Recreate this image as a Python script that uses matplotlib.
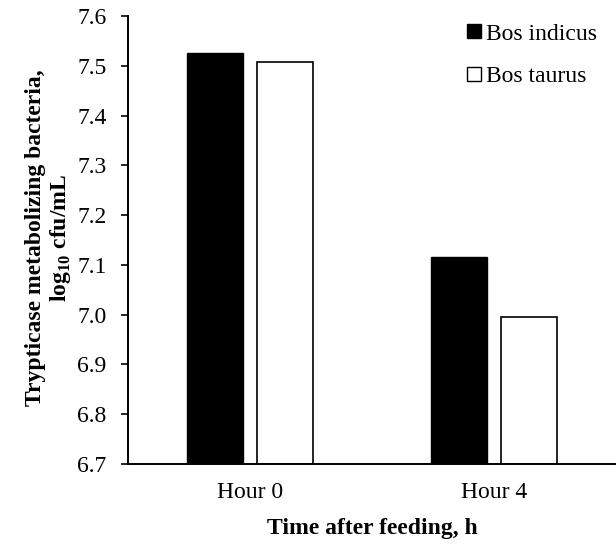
import numpy as np
import matplotlib
matplotlib.use("Agg")
import matplotlib.pyplot as plt
from matplotlib.lines import Line2D
from matplotlib.ticker import FormatStrFormatter

# data
hours = ["Hour 0", "Hour 4"]
bos_indicus = [7.525, 7.115]
bos_taurus = [7.508, 6.996]
y_ticks = [6.7, 6.8, 6.9, 7.0, 7.1, 7.2, 7.3, 7.4, 7.5, 7.6]

plt.rcParams["font.family"] = ["Liberation Serif", "DejaVu Serif"]
plt.rcParams["mathtext.fontset"] = "custom"
plt.rcParams["mathtext.rm"] = "Liberation Serif"
plt.rcParams["mathtext.bf"] = "Liberation Serif:bold"
plt.rcParams["font.size"] = 17

fig = plt.figure(figsize=(6.16, 5.48), dpi=100)
ax = fig.add_axes([128 / 616, 1 - 464 / 548, 1 - 128 / 616, 448 / 548])

x = np.arange(len(hours))
w = 0.232
off = 0.143
ax.bar(x - off, np.array(bos_indicus) - 6.7, w, bottom=6.7, color="black",
       edgecolor="black", linewidth=1.0)
ax.bar(x + off, np.array(bos_taurus) - 6.7, w, bottom=6.7, color="white",
       edgecolor="black", linewidth=1.2)

ax.set_xlim(-0.5, 1.5)
ax.set_ylim(6.7, 7.6)
ax.set_yticks(y_ticks)
ax.yaxis.set_major_formatter(FormatStrFormatter("%.1f"))
ax.set_xticks(x)
ax.set_xticklabels(hours)
ax.tick_params(axis="x", length=0, pad=13)
ax.tick_params(axis="y", direction="out", length=5, width=1.2, pad=10.5)

for s in ["top", "right"]:
    ax.spines[s].set_visible(False)
for s in ["left", "bottom"]:
    ax.spines[s].set_linewidth(1.4)

fig.text(372 / 616, 1 - 534 / 548, "Time after feeding, h", ha="center",
         va="baseline", fontweight="bold", fontsize=17)
fig.text(49 / 616, 1 - 238 / 548,
         "Trypticase metabolizing bacteria,\nlog$_{\\mathbf{10}}$ cfu/mL",
         rotation=90, ha="center", va="center", multialignment="center",
         fontweight="bold", fontsize=17, linespacing=1.1)

handles = [
    Line2D([], [], marker="s", linestyle="none", markersize=10,
           markerfacecolor="black", markeredgecolor="black"),
    Line2D([], [], marker="s", linestyle="none", markersize=10,
           markerfacecolor="white", markeredgecolor="black"),
]
fig.legend(handles, ["Bos indicus", "Bos taurus"], loc="upper left",
           bbox_to_anchor=(466 / 616, 1 - 23 / 548), frameon=False,
           borderpad=0, borderaxespad=0, handlelength=0.65, handletextpad=0.2,
           labelspacing=0.9, fontsize=17)

fig.savefig("out.png", dpi=100)
